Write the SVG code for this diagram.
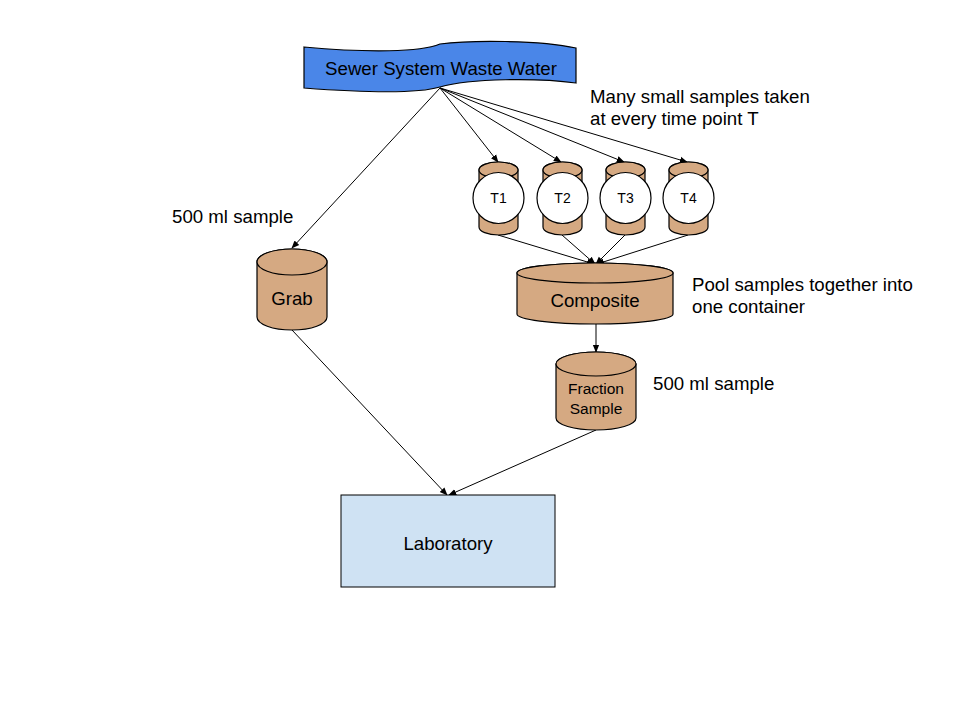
<svg xmlns="http://www.w3.org/2000/svg" width="960" height="720" viewBox="0 0 960 720">
<style>
.cyl{fill:#d5a982;stroke:#000;stroke-width:1.2}
.t{font-family:"Liberation Sans",Arial,sans-serif;fill:#000}
.c{stroke:#000;stroke-width:1;fill:none;marker-end:url(#ah)}
</style>
<defs>
<marker id="ah" viewBox="0 0 10 10" refX="9" refY="5" markerWidth="8" markerHeight="8" markerUnits="userSpaceOnUse" orient="auto">
<path d="M0,1 L10,5 L0,9 Z" fill="#000"/>
</marker>
</defs>
<rect width="960" height="720" fill="#fff"/>
<g id="connectors">
<line class="c" x1="440" y1="88" x2="292" y2="248"/>
<line class="c" x1="440" y1="88" x2="498" y2="162"/>
<line class="c" x1="440" y1="88" x2="561" y2="162"/>
<line class="c" x1="440" y1="88" x2="624" y2="162"/>
<line class="c" x1="440" y1="88" x2="687" y2="162"/>
<line class="c" x1="498" y1="235" x2="594" y2="264"/>
<line class="c" x1="562" y1="235" x2="595" y2="264"/>
<line class="c" x1="625" y1="235" x2="596" y2="264"/>
<line class="c" x1="688" y1="235" x2="597" y2="264"/>
<line class="c" x1="596" y1="324" x2="596" y2="352"/>
<line class="c" x1="292" y1="330" x2="447" y2="495"/>
<line class="c" x1="596" y1="430" x2="449" y2="495"/>
</g>
<g id="banner">
<path d="M304,47 C370,53 420,52 440,44 C470,40 540,40 576,48 L576,83 C540,78 470,78 440,87 C420,93 370,93 304,88 Z" fill="#4a86e8" stroke="#000" stroke-width="1.2"/>
<text class="t" x="441" y="75" font-size="18.67" text-anchor="middle">Sewer System Waste Water</text>
</g>
<g id="grab">
<path class="cyl" d="M257,262 L257,317 A35,13 0 0 0 327,317 L327,262 A35,13 0 0 0 257,262 Z"/>
<ellipse class="cyl" cx="292" cy="262" rx="35" ry="13"/>
<text class="t" x="292" y="305" font-size="18.67" text-anchor="middle">Grab</text>
</g>
<g id="t1">
<path class="cyl" d="M479,170 L479,227 A19.5,8 0 0 0 518,227 L518,170 A19.5,8 0 0 0 479,170 Z"/>
<ellipse class="cyl" cx="498.5" cy="170" rx="19.5" ry="8"/>
<circle cx="498.5" cy="198" r="25.5" fill="#fff" stroke="#000" stroke-width="1.2"/>
<text class="t" x="498.5" y="203" font-size="14" text-anchor="middle">T1</text>
</g>
<g id="t2">
<path class="cyl" d="M543,170 L543,227 A19.5,8 0 0 0 582,227 L582,170 A19.5,8 0 0 0 543,170 Z"/>
<ellipse class="cyl" cx="562.5" cy="170" rx="19.5" ry="8"/>
<circle cx="562.5" cy="198" r="25.5" fill="#fff" stroke="#000" stroke-width="1.2"/>
<text class="t" x="562.5" y="203" font-size="14" text-anchor="middle">T2</text>
</g>
<g id="t3">
<path class="cyl" d="M606,170 L606,227 A19.5,8 0 0 0 645,227 L645,170 A19.5,8 0 0 0 606,170 Z"/>
<ellipse class="cyl" cx="625.5" cy="170" rx="19.5" ry="8"/>
<circle cx="625.5" cy="198" r="25.5" fill="#fff" stroke="#000" stroke-width="1.2"/>
<text class="t" x="625.5" y="203" font-size="14" text-anchor="middle">T3</text>
</g>
<g id="t4">
<path class="cyl" d="M669,170 L669,227 A19.5,8 0 0 0 708,227 L708,170 A19.5,8 0 0 0 669,170 Z"/>
<ellipse class="cyl" cx="688.5" cy="170" rx="19.5" ry="8"/>
<circle cx="688.5" cy="198" r="25.5" fill="#fff" stroke="#000" stroke-width="1.2"/>
<text class="t" x="688.5" y="203" font-size="14" text-anchor="middle">T4</text>
</g>
<g id="composite">
<path class="cyl" d="M517,273 L517,314 A78,10 0 0 0 673,314 L673,273 A78,10 0 0 0 517,273 Z"/>
<ellipse class="cyl" cx="595" cy="273" rx="78" ry="10"/>
<text class="t" x="595" y="307" font-size="18.67" text-anchor="middle">Composite</text>
</g>
<g id="fraction">
<path class="cyl" d="M556,364 L556,418 A40,12 0 0 0 636,418 L636,364 A40,12 0 0 0 556,364 Z"/>
<ellipse class="cyl" cx="596" cy="364" rx="40" ry="12"/>
<text class="t" x="596" y="394" font-size="15.5" text-anchor="middle">Fraction</text>
<text class="t" x="596" y="414" font-size="15.5" text-anchor="middle">Sample</text>
</g>
<g id="laboratory">
<rect x="341" y="495" width="214" height="92" fill="#cfe2f3" stroke="#000" stroke-width="1"/>
<text class="t" x="448" y="550" font-size="18.67" text-anchor="middle">Laboratory</text>
</g>
<g id="labels">
<text class="t" x="590" y="103" font-size="18.67">Many small samples taken</text>
<text class="t" x="590" y="125" font-size="18.67">at every time point T</text>
<text class="t" x="172" y="223" font-size="18.67">500 ml sample</text>
<text class="t" x="692" y="291" font-size="18.67">Pool samples together into</text>
<text class="t" x="692" y="313" font-size="18.67">one container</text>
<text class="t" x="653" y="390" font-size="18.67">500 ml sample</text>
</g>
</svg>
